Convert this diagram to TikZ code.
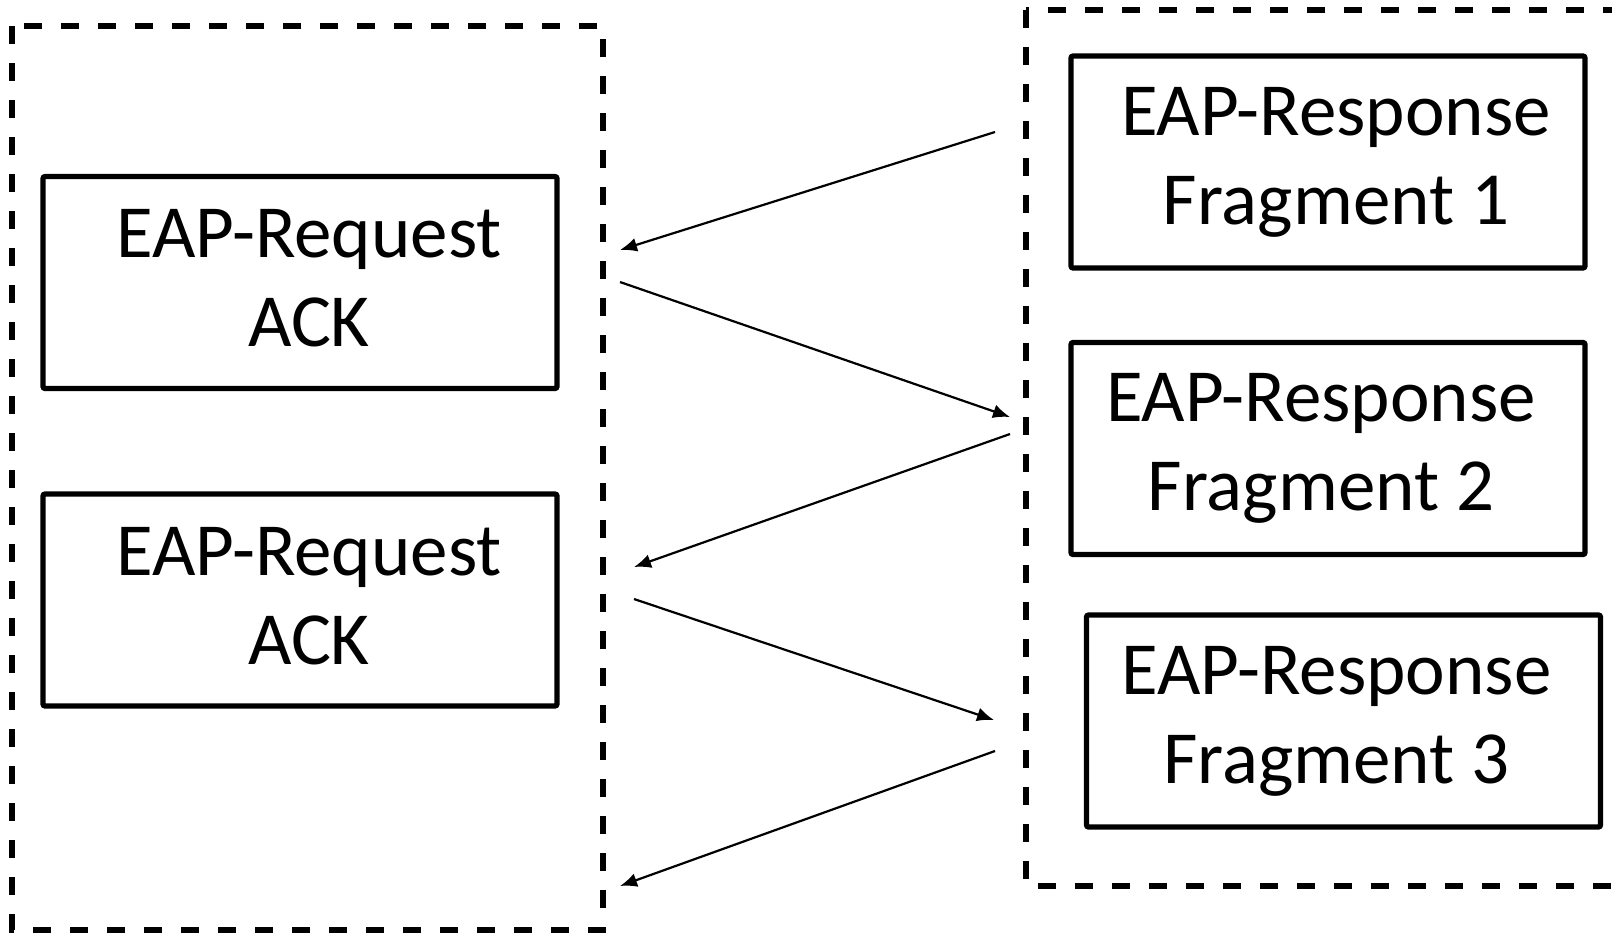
\documentclass[tikz,border=0pt]{standalone}
\usepackage{fontspec}
\setmainfont{Carlito}
\usepackage{tikz}
\usetikzlibrary{arrows.meta,positioning}
\tikzset{
  msgbox/.style={draw, rectangle, line width=2.6pt, rounded corners=1pt, inner sep=0pt,
    minimum width=257pt, minimum height=106pt},
  msgtext/.style={inner sep=0pt, align=center, font=\fontsize{37.5}{44.5}\selectfont},
  groupbox/.style={draw, line width=3pt, dash pattern=on 9pt off 9.5pt},
  msg/.style={line width=1.1pt, -{Latex[length=8.5pt,width=7pt]}}
}

\begin{document}
\begin{tikzpicture}[x=0.5pt,y=-0.5pt]
        \useasboundingbox (0,0) rectangle (1612,933);
        \draw[groupbox] (12,26) rectangle (603,930);
        \draw[groupbox] (1026,10) rectangle (1650,886);

        \node[msgbox] (req1) at (300,282.5) {};
        \node[msgbox] (req2) at (300,600) {};
        \node[msgbox] (resp1) at (1328,162) {};
        \node[msgbox] (resp2) at (1328,448.5) {};
        \node[msgbox] (resp3) at (1343.5,721) {};

        \node[msgtext, xshift=4.5pt, yshift=2pt] (req1text) at (req1) {EAP-Request\\ACK};
        \node[msgtext, xshift=4.5pt, yshift=2pt] (req2text) at (req2) {EAP-Request\\ACK};
        \node[msgtext, xshift=4pt] (resp1text) at (resp1) {EAP-Response\\Fragment 1};
        \node[msgtext, xshift=-3.5pt] (resp2text) at (resp2) {EAP-Response\\Fragment 2};
        \node[msgtext, xshift=-3.5pt] (resp3text) at (resp3) {EAP-Response\\Fragment 3};

        \coordinate (out1) at (995,132);
        \coordinate (in1) at (620,250);
        \coordinate (out2) at (620,282);
        \coordinate (in2) at (1010,417);
        \coordinate (out3) at (1010,434);
        \coordinate (in3) at (634,567);
        \coordinate (out4) at (634,599);
        \coordinate (in4) at (994,720);
        \coordinate (out5) at (995,751);
        \coordinate (in5) at (620,886);

        \draw[msg] (out1) -- (in1);
        \draw[msg] (out2) -- (in2);
        \draw[msg] (out3) -- (in3);
        \draw[msg] (out4) -- (in4);
        \draw[msg] (out5) -- (in5);
    \end{tikzpicture}
\end{document}
